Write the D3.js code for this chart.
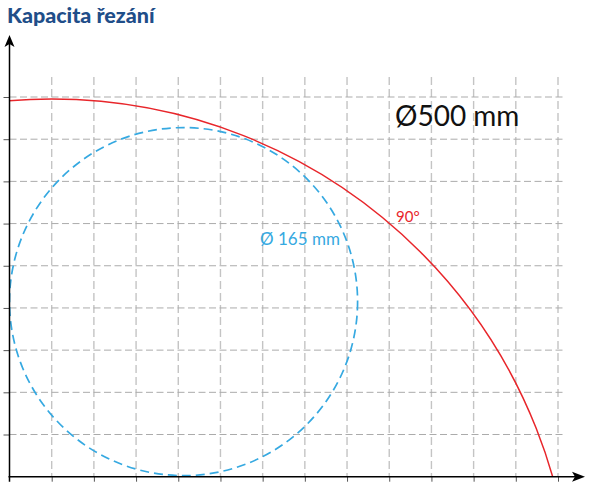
<!DOCTYPE html>
<html>
<head>
<meta charset="utf-8">
<script src="https://cdn.jsdelivr.net/npm/d3@7"></script>
<style>
  body { margin: 0; background: #fff; }
  svg { display: block; }
</style>
</head>
<body>
<svg id="chart" width="591" height="489"></svg>
<script>
// --- data (mm) ---
const xTicks = [0, 20, 40, 60, 80, 100, 120, 140, 160, 180, 200, 220, 240, 260];
const yTicks = [0, 20, 40, 60, 80, 100, 120, 140, 160, 180];

// cutting capacity circles: 90° cut for Ø500 blade, Ø165 round stock
const circleLabels = ["90°", "Ø 165 mm"];
const circleCx = [20, 82.5];
const circleCy = [-68, 83];
const circleR = [247, 82.5];
const circleColors = ["#e8262b", "#36a9e1"];

const bladeLabel = "Ø500 mm";

// --- setup ---
const svg = d3.select("#chart");
const x = d3.scaleLinear().domain([0, 260]).range([9.5, 558]);
const y = d3.scaleLinear().domain([0, 180]).range([476.7, 97]);
const pxPerMm = x(1) - x(0);

// title
svg.append("text")
    .attr("x", 7).attr("y", 23)
    .attr("font-family", "Lato, sans-serif")
    .attr("font-weight", 900)
    .attr("font-size", 21.5)
    .attr("fill", "#1f4e89")
    .text("Kapacita řezání");

// grid - vertical
svg.append("g").selectAll("line")
    .data(xTicks.slice(1))
    .join("line")
    .attr("x1", d => x(d)).attr("x2", d => x(d))
    .attr("y1", 77).attr("y2", y(0))
    .attr("stroke", "#c4c4c4")
    .attr("stroke-width", 1.4)
    .attr("stroke-dasharray", "8,4");

// grid - horizontal
svg.append("g").selectAll("line")
    .data(yTicks.slice(1))
    .join("line")
    .attr("x1", x(0)).attr("x2", 563)
    .attr("y1", d => y(d)).attr("y2", d => y(d))
    .attr("stroke", "#ababab")
    .attr("stroke-width", 1)
    .attr("stroke-dasharray", "7,3.5");

// ticks
svg.append("g")
    .attr("transform", `translate(0,${y(0)})`)
    .call(d3.axisBottom(x).tickValues(xTicks.slice(1)).tickSize(5).tickFormat(""))
    .call(g => g.select(".domain").remove())
    .call(g => g.selectAll(".tick line").attr("stroke", "#555"));

svg.append("g")
    .attr("transform", `translate(${x(0)},0)`)
    .call(d3.axisLeft(y).tickValues(yTicks.slice(1)).tickSize(6).tickFormat(""))
    .call(g => g.select(".domain").remove())
    .call(g => g.selectAll(".tick line").attr("stroke", "#555"));

// clip to first quadrant
svg.append("clipPath").attr("id", "quad")
    .append("rect")
    .attr("x", x(0)).attr("y", 0)
    .attr("width", 591 - x(0)).attr("height", y(0));

// circles
const circles = circleLabels.map((label, i) => ({
    label, cx: circleCx[i], cy: circleCy[i], r: circleR[i], color: circleColors[i]
}));

svg.append("g").attr("clip-path", "url(#quad)")
    .selectAll("circle")
    .data(circles)
    .join("circle")
    .attr("cx", d => x(d.cx))
    .attr("cy", d => y(d.cy))
    .attr("r", d => d.r * pxPerMm)
    .attr("fill", "none")
    .attr("stroke", d => d.color)
    .attr("stroke-width", (d, i) => i === 0 ? 1.5 : 1.7)
    .attr("stroke-dasharray", (d, i) => i === 0 ? null : "9,5");

// axes with arrows
svg.append("line")
    .attr("x1", x(0)).attr("x2", x(0))
    .attr("y1", y(0) + 5).attr("y2", 44)
    .attr("stroke", "#000").attr("stroke-width", 1.5);
svg.append("path")
    .attr("d", `M${x(0)},35 L${x(0) + 5},47 L${x(0)},44 L${x(0) - 5},47 Z`)
    .attr("fill", "#000");

svg.append("line")
    .attr("x1", x(0) - 1).attr("x2", 576)
    .attr("y1", y(0)).attr("y2", y(0))
    .attr("stroke", "#000").attr("stroke-width", 1.5);
svg.append("path")
    .attr("d", `M585,${y(0)} L572,${y(0) - 5} L575,${y(0)} L572,${y(0) + 5} Z`)
    .attr("fill", "#000");

// labels
svg.append("text")
    .attr("x", 395).attr("y", 126)
    .attr("font-family", "Lato, sans-serif")
    .attr("font-size", 28)
    .attr("fill", "#111")
    .text(bladeLabel);

svg.append("text")
    .attr("x", 396).attr("y", 221.5)
    .attr("font-family", "Lato, sans-serif")
    .attr("font-size", 15)
    .attr("fill", circles[0].color)
    .text(circles[0].label);

svg.append("text")
    .attr("x", 260).attr("y", 245)
    .attr("font-family", "Lato, sans-serif")
    .attr("font-size", 17)
    .attr("fill", circles[1].color)
    .text(circles[1].label);
</script>
</body>
</html>
